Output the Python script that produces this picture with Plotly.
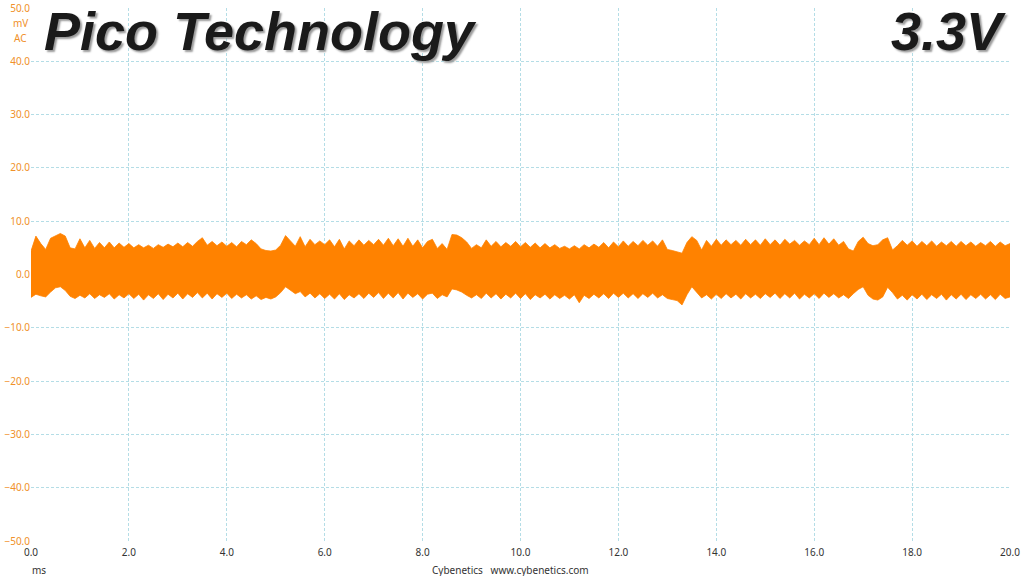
import plotly.graph_objects as go

# ---------------- data ----------------
time_step_ms = 0.1
time_ms = [round(i * time_step_ms, 1) for i in range(201)]

# upper envelope of the ripple trace (mV), one value every 0.1 ms
upper_mv = [
    4.4, 7.2, 5.8, 4.7, 6.8, 7.3, 7.7, 7.2, 5.0, 4.8,   # 0.0-0.9
    6.7, 5.0, 6.4, 4.9, 6.0, 5.0, 6.1, 5.0, 5.9, 5.1,   # 1.0-1.9
    5.8, 5.0, 5.6, 5.0, 5.5, 4.9, 5.6, 5.1, 5.7, 5.2,   # 2.0-2.9
    5.9, 5.2, 6.0, 5.3, 6.2, 6.9, 5.5, 6.2, 5.4, 6.1,   # 3.0-3.9
    5.3, 6.0, 5.2, 6.2, 5.6, 6.5, 5.8, 4.8, 4.5, 4.4,   # 4.0-4.9
    4.6, 5.5, 7.3, 6.3, 5.3, 7.1, 5.2, 6.6, 5.6, 6.3,   # 5.0-5.9
    5.6, 6.5, 5.2, 6.6, 4.8, 6.3, 5.4, 6.5, 5.5, 6.4,   # 6.0-6.9
    5.6, 6.6, 5.5, 6.8, 5.4, 6.7, 5.3, 6.8, 5.3, 6.5,   # 7.0-7.9
    5.0, 6.2, 6.6, 4.9, 5.8, 4.7, 7.5, 7.4, 6.9, 6.1,   # 8.0-8.9
    4.9, 5.6, 5.0, 6.5, 5.3, 6.2, 5.2, 6.0, 5.3, 6.2,   # 9.0-9.9
    5.2, 6.0, 5.1, 5.9, 5.0, 5.8, 5.0, 5.6, 4.9, 5.3,   # 10.0-10.9
    4.8, 5.4, 4.8, 5.6, 5.0, 5.7, 5.1, 6.0, 5.0, 6.1,   # 11.0-11.9
    5.2, 6.3, 5.3, 6.2, 5.4, 6.4, 5.5, 6.3, 5.3, 6.5,   # 12.0-12.9
    4.7, 4.5, 4.3, 4.0, 6.0, 7.1, 6.4, 4.6, 6.4, 5.3,   # 13.0-13.9
    6.6, 5.5, 6.5, 5.6, 6.4, 5.5, 6.6, 5.6, 6.5, 5.5,   # 14.0-14.9
    6.7, 5.6, 6.5, 5.5, 6.6, 5.7, 6.4, 5.5, 6.3, 5.6,   # 15.0-15.9
    6.8, 5.6, 6.9, 5.7, 6.7, 5.5, 6.2, 4.8, 4.4, 6.2,   # 16.0-16.9
    7.0, 5.8, 5.4, 5.6, 6.5, 6.9, 4.6, 5.4, 6.4, 5.5,   # 17.0-17.9
    6.3, 5.3, 6.2, 5.4, 6.3, 5.3, 6.1, 5.4, 6.2, 5.3,   # 18.0-18.9
    6.2, 5.4, 6.1, 5.3, 6.0, 5.4, 6.2, 5.3, 6.1, 5.4,   # 19.0-19.9
    5.8,                                                # 20.0
]

# lower envelope of the ripple trace (mV)
lower_mv = [
    -4.3, -3.7, -4.0, -4.2, -3.3, -2.5, -2.3, -3.0, -4.1, -4.5,
    -3.9, -4.4, -3.6, -4.5, -3.8, -4.3, -3.6, -4.6, -3.8, -4.4,
    -3.6, -4.5, -3.7, -4.8, -3.8, -4.5, -3.6, -4.7, -3.7, -4.4,
    -3.5, -4.6, -3.6, -4.3, -3.4, -4.4, -3.5, -4.6, -3.6, -4.3,
    -3.5, -4.5, -3.7, -4.4, -3.8, -4.6, -4.0, -4.7, -4.3, -4.6,
    -4.2, -3.4, -2.3, -2.9, -3.6, -3.2, -4.2, -3.5, -4.4, -3.6,
    -4.5, -3.7, -4.6, -3.6, -4.7, -3.8, -4.4, -3.6, -4.5, -3.5,
    -4.3, -3.4, -4.5, -3.5, -4.4, -3.4, -4.6, -3.5, -4.3, -3.6,
    -4.6, -3.7, -3.5, -4.5, -3.8, -4.2, -2.7, -2.9, -3.3, -3.9,
    -4.4, -3.8, -4.5, -3.5, -4.4, -3.6, -4.6, -3.7, -4.4, -3.5,
    -4.5, -3.6, -4.7, -3.8, -4.4, -3.7, -4.6, -3.8, -4.5, -3.9,
    -4.6, -3.8, -5.3, -3.9, -4.5, -3.7, -4.4, -3.6, -4.5, -3.5,
    -4.3, -3.5, -4.4, -3.6, -4.5, -3.6, -4.3, -3.5, -4.4, -3.8,
    -4.5, -4.7, -4.9, -5.7, -3.8, -2.3, -3.3, -4.4, -3.8, -4.6,
    -3.7, -4.5, -3.6, -4.4, -3.7, -4.6, -3.6, -4.4, -3.7, -4.5,
    -3.6, -4.3, -3.5, -4.5, -3.6, -4.4, -3.5, -4.6, -3.7, -4.4,
    -3.6, -4.5, -3.5, -4.3, -3.6, -4.4, -3.8, -4.5, -3.6, -2.8,
    -2.3, -3.9, -4.6, -4.8, -4.2, -2.4, -3.4, -4.6, -3.9, -4.8,
    -3.8, -4.6, -3.7, -4.7, -3.8, -4.5, -3.7, -4.8, -3.8, -4.6,
    -3.7, -4.7, -3.8, -4.5, -3.7, -4.6, -3.8, -4.7, -3.7, -4.5,
    -4.2,
]

y_ticks = [-50, -40, -30, -20, -10, 0, 10, 20, 30, 40, 50]
x_ticks = [0, 2, 4, 6, 8, 10, 12, 14, 16, 18, 20]
title_left = "Pico Technology"
title_right = "3.3V"
unit_y = ["mV", "AC"]
unit_x = "ms"
credit = "Cybenetics   www.cybenetics.com"

# ---------------- styling ----------------
ORANGE = "#ff8200"
TICK_ORANGE = "#f0912a"
GRID = "#b4dde6"
FONT = "Noto Sans"

fig = go.Figure()
fig.add_trace(go.Scatter(
    x=time_ms, y=lower_mv, mode="lines",
    line=dict(color=ORANGE, width=0.8), hoverinfo="skip", showlegend=False,
))
fig.add_trace(go.Scatter(
    x=time_ms, y=upper_mv, mode="lines", fill="tonexty", fillcolor=ORANGE,
    line=dict(color=ORANGE, width=0.8), hoverinfo="skip", showlegend=False,
))

fig.update_layout(
    width=1024, height=576,
    margin=dict(l=31, r=14, t=8, b=35, autoexpand=False),
    paper_bgcolor="white", plot_bgcolor="white",
    showlegend=False,
    font=dict(family=FONT, size=10),
)
fig.update_xaxes(
    range=[0, 20], tickvals=x_ticks, tickformat=".1f", automargin=False,
    showgrid=True, gridcolor=GRID, griddash="3px,2px", gridwidth=1,
    zeroline=False, showline=False, ticks="", ticklabelstandoff=4,
    tickfont=dict(family=FONT, size=10, color="#333333"),
)
fig.update_yaxes(
    range=[-50, 50], tickvals=y_ticks, tickformat=".1f", automargin=False,
    showgrid=True, gridcolor=GRID, griddash="3px,2px", gridwidth=1,
    zeroline=False, showline=False, ticks="",
    tickfont=dict(family=FONT, size=10, color=TICK_ORANGE),
)

title_font = dict(family="Liberation Sans", size=54, color="#1a1a1a",
                  style="italic", weight="bold",
                  shadow="2px 2px 2px #9a9a9a")
fig.add_annotation(text=title_left, xref="paper", yref="paper",
                   x=0.011, y=1.016, xanchor="left", yanchor="top",
                   showarrow=False, font=title_font)
fig.add_annotation(text=title_right, xref="paper", yref="paper",
                   x=0.998, y=1.016, xanchor="right", yanchor="top",
                   showarrow=False, font=title_font)

for i, u in enumerate(unit_y):
    fig.add_annotation(text=u, xref="paper", yref="paper",
                       x=-0.011, y=0.972 - i * 0.029, xanchor="center", yanchor="middle",
                       showarrow=False, font=dict(family=FONT, size=10, color=TICK_ORANGE))

fig.add_annotation(text=unit_x, xref="paper", yref="paper",
                   x=0.008, y=-0.054, xanchor="center", yanchor="middle",
                   showarrow=False, font=dict(family=FONT, size=10, color="#333333"))
fig.add_annotation(text=credit, xref="paper", yref="paper",
                   x=0.490, y=-0.054, xanchor="center", yanchor="middle",
                   showarrow=False, font=dict(family=FONT, size=10, color="#333333"))

fig.write_html("out.html", config={"displayModeBar": False},
               post_script="document.body.style.margin='0';")
